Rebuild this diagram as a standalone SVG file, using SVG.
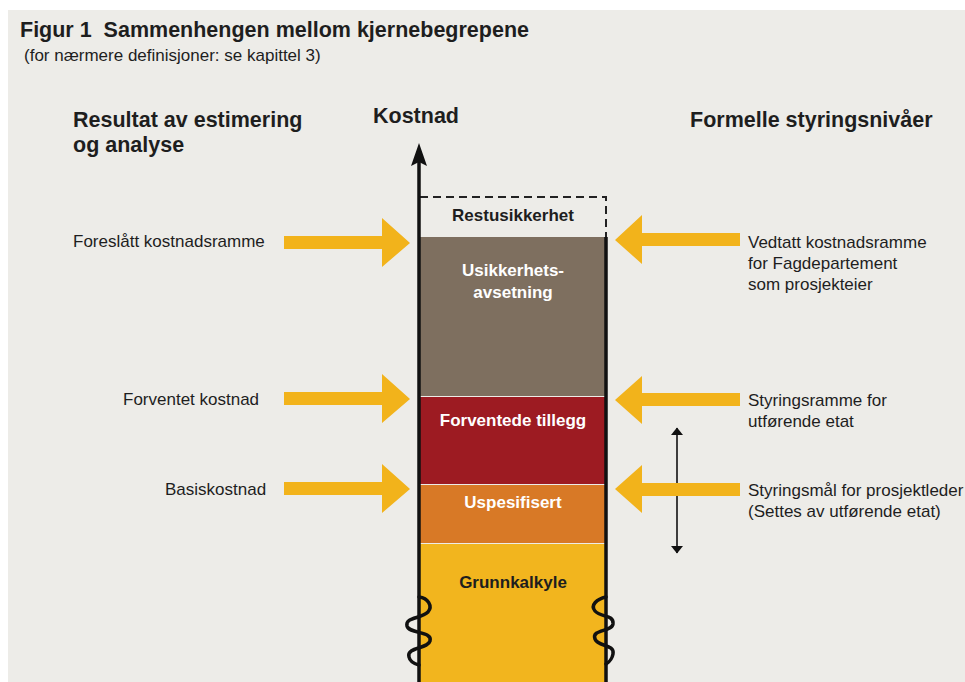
<svg xmlns="http://www.w3.org/2000/svg" width="965" height="682" viewBox="0 0 965 682">
<defs>
<style>
.t{font-family:"Liberation Sans",Arial,sans-serif;fill:#1e1e1e}
.b{font-weight:bold}
.h{font-size:21.5px;font-weight:bold}
.lbl{font-size:17px}
.blk{font-size:17px;font-weight:bold;text-anchor:middle}
.w{fill:#ffffff}
.ya{fill:#F2B31B}
.sq{fill:none;stroke:#111;stroke-width:3.5;stroke-linecap:round}
</style>
<marker id="ah" viewBox="0 0 8 13" refX="7.5" refY="6.5" markerWidth="5" markerHeight="8.1" orient="auto-start-reverse" markerUnits="strokeWidth">
<path d="M0,0 L8,6.5 L0,13 Z" fill="#111"/>
</marker>
</defs>
<rect x="0" y="0" width="965" height="682" fill="#ffffff"/>
<rect x="8" y="10" width="957" height="672" fill="#EDECE8"/>

<g id="title">
<text class="t b" x="20" y="37" font-size="21.5" xml:space="preserve">Figur 1  Sammenhengen mellom kjernebegrepene</text>
<text class="t" x="24" y="61" font-size="17">(for nærmere definisjoner: se kapittel 3)</text>
</g>
<g id="headers">
<text class="t h" x="73" y="127">Resultat av estimering</text>
<text class="t h" x="73" y="152">og analyse</text>
<text class="t h" x="373" y="123">Kostnad</text>
<text class="t h" x="690" y="127">Formelle styringsnivåer</text>
</g>

<g id="block-restusikkerhet">
<path d="M420,197 H606 V237" fill="none" stroke="#222" stroke-width="2" stroke-dasharray="8,5"/>
<text class="t blk" x="513" y="221">Restusikkerhet</text>
</g>
<g id="block-usikkerhetsavsetning">
<rect x="419" y="237" width="187" height="159" fill="#7E6F5F"/>
<text class="t blk w" x="513" y="276">Usikkerhets-</text>
<text class="t blk w" x="513" y="298">avsetning</text>
</g>
<g id="block-forventede-tillegg">
<rect x="419" y="397" width="187" height="87" fill="#9D1B22"/>
<text class="t blk w" x="513" y="426">Forventede tillegg</text>
</g>
<g id="block-uspesifisert">
<rect x="419" y="485" width="187" height="58" fill="#D87926"/>
<text class="t blk w" x="513" y="508">Uspesifisert</text>
</g>
<g id="block-grunnkalkyle">
<rect x="419" y="544" width="187" height="138" fill="#F2B51E"/>
<text class="t blk" x="513" y="588">Grunnkalkyle</text>
</g>

<g id="connectors">
<line x1="419" y1="682" x2="419" y2="150" stroke="#111" stroke-width="3.5"/>
<path d="M419,143 L427,166 L419,162 L411,166 Z" fill="#111"/>
<line x1="606" y1="237" x2="606" y2="682" stroke="#111" stroke-width="3.5"/>
<path class="sq" d="M419,597 C428,598 433,606 428,612 C421,619 405,617 407,626 C409,634 433,631 430,641 C428,649 406,647 409,657 C410,662 415,664 419,665"/>
<path class="sq" d="M606,597 C597,599 590,605 595,611 C601,618 614,614 613,624 C612,632 591,629 595,639 C598,647 615,644 613,654 C612,660 609,662 606,664"/>
<line x1="677" y1="428" x2="677" y2="553" stroke="#111" stroke-width="1.6" marker-start="url(#ah)" marker-end="url(#ah)"/>
<g id="arrow-left-1"><path class="ya" d="M284,236 H382 V218 L410,243 L382,267 V249 H284 Z"/></g>
<g id="arrow-left-2"><path class="ya" d="M284,392 H382 V374 L410,399 L382,423 V405 H284 Z"/></g>
<g id="arrow-left-3"><path class="ya" d="M284,482 H382 V464 L410,489 L382,513 V495 H284 Z"/></g>
<g id="arrow-right-1"><path class="ya" d="M740,233 H642 V215 L615,240 L642,264 V246 H740 Z"/></g>
<g id="arrow-right-2"><path class="ya" d="M740,393 H642 V376 L615,400 L642,424 V406 H740 Z"/></g>
<g id="arrow-right-3"><path class="ya" d="M740,483 H642 V465 L615,489 L642,513 V496 H740 Z"/></g>
</g>

<g id="labels-left">
<text class="t lbl" x="73" y="247">Foreslått kostnadsramme</text>
<text class="t lbl" x="123" y="405">Forventet kostnad</text>
<text class="t lbl" x="165" y="495">Basiskostnad</text>
</g>
<g id="labels-right">
<text class="t lbl" x="748" y="248">Vedtatt kostnadsramme</text>
<text class="t lbl" x="748" y="269">for Fagdepartement</text>
<text class="t lbl" x="748" y="290">som prosjekteier</text>
<text class="t lbl" x="748" y="406">Styringsramme for</text>
<text class="t lbl" x="748" y="427">utførende etat</text>
<text class="t lbl" x="748" y="496">Styringsmål for prosjektleder</text>
<text class="t lbl" x="748" y="517">(Settes av utførende etat)</text>
</g>
</svg>
